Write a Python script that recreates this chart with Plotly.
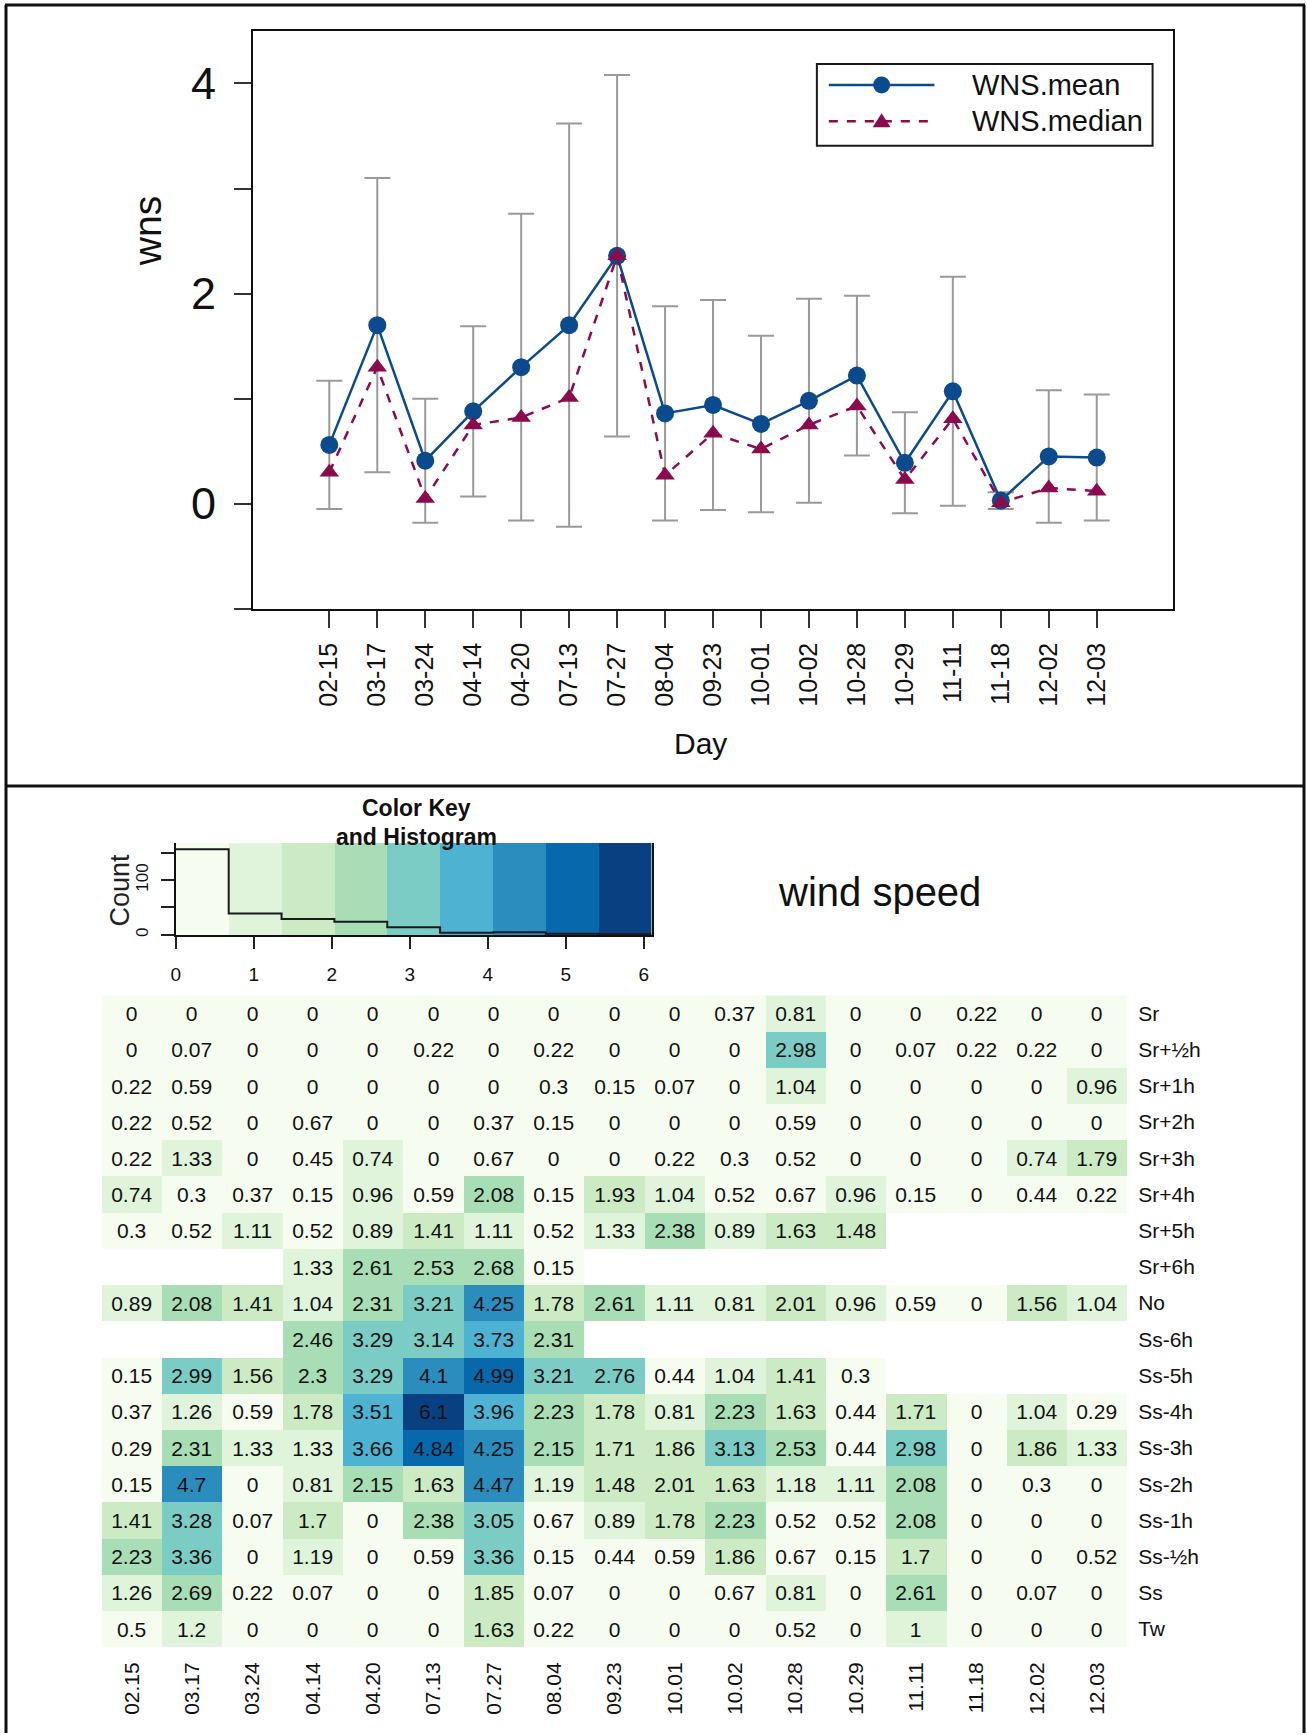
import numpy as np
import plotly.graph_objects as go

W, H = 1307, 1735

# ---------------- daily wind speed summary ----------------
days = ["02-15", "03-17", "03-24", "04-14", "04-20", "07-13", "07-27", "08-04", "09-23",
        "10-01", "10-02", "10-28", "10-29", "11-11", "11-18", "12-02", "12-03"]
wns_mean = [0.56, 1.70, 0.41, 0.88, 1.30, 1.70, 2.36, 0.86, 0.94,
            0.76, 0.98, 1.22, 0.39, 1.07, 0.03, 0.45, 0.44]
wns_sd = [0.61, 1.40, 0.59, 0.81, 1.46, 1.92, 1.72, 1.02, 1.00,
          0.84, 0.97, 0.76, 0.48, 1.09, 0.08, 0.63, 0.60]
wns_median = [0.30, 1.30, 0.05, 0.75, 0.82, 1.01, 2.36, 0.27, 0.67,
              0.52, 0.75, 0.93, 0.23, 0.81, 0.01, 0.15, 0.12]

# ---------------- wind speed by solar time slot ----------------
heat_days = ["02.15", "03.17", "03.24", "04.14", "04.20", "07.13", "07.27", "08.04", "09.23",
             "10.01", "10.02", "10.28", "10.29", "11.11", "11.18", "12.02", "12.03"]
slots = ["Sr", "Sr+½h", "Sr+1h", "Sr+2h", "Sr+3h", "Sr+4h", "Sr+5h", "Sr+6h", "No",
         "Ss-6h", "Ss-5h", "Ss-4h", "Ss-3h", "Ss-2h", "Ss-1h", "Ss-½h", "Ss", "Tw"]
NA = None
ws_Sr = [0, 0, 0, 0, 0, 0, 0, 0, 0, 0, 0.37, 0.81, 0, 0, 0.22, 0, 0]
ws_Sr_half = [0, 0.07, 0, 0, 0, 0.22, 0, 0.22, 0, 0, 0, 2.98, 0, 0.07, 0.22, 0.22, 0]
ws_Sr_1h = [0.22, 0.59, 0, 0, 0, 0, 0, 0.3, 0.15, 0.07, 0, 1.04, 0, 0, 0, 0, 0.96]
ws_Sr_2h = [0.22, 0.52, 0, 0.67, 0, 0, 0.37, 0.15, 0, 0, 0, 0.59, 0, 0, 0, 0, 0]
ws_Sr_3h = [0.22, 1.33, 0, 0.45, 0.74, 0, 0.67, 0, 0, 0.22, 0.3, 0.52, 0, 0, 0, 0.74, 1.79]
ws_Sr_4h = [0.74, 0.3, 0.37, 0.15, 0.96, 0.59, 2.08, 0.15, 1.93, 1.04, 0.52, 0.67, 0.96, 0.15, 0, 0.44, 0.22]
ws_Sr_5h = [0.3, 0.52, 1.11, 0.52, 0.89, 1.41, 1.11, 0.52, 1.33, 2.38, 0.89, 1.63, 1.48, NA, NA, NA, NA]
ws_Sr_6h = [NA, NA, NA, 1.33, 2.61, 2.53, 2.68, 0.15, NA, NA, NA, NA, NA, NA, NA, NA, NA]
ws_No = [0.89, 2.08, 1.41, 1.04, 2.31, 3.21, 4.25, 1.78, 2.61, 1.11, 0.81, 2.01, 0.96, 0.59, 0, 1.56, 1.04]
ws_Ss_6h = [NA, NA, NA, 2.46, 3.29, 3.14, 3.73, 2.31, NA, NA, NA, NA, NA, NA, NA, NA, NA]
ws_Ss_5h = [0.15, 2.99, 1.56, 2.3, 3.29, 4.1, 4.99, 3.21, 2.76, 0.44, 1.04, 1.41, 0.3, NA, NA, NA, NA]
ws_Ss_4h = [0.37, 1.26, 0.59, 1.78, 3.51, 6.1, 3.96, 2.23, 1.78, 0.81, 2.23, 1.63, 0.44, 1.71, 0, 1.04, 0.29]
ws_Ss_3h = [0.29, 2.31, 1.33, 1.33, 3.66, 4.84, 4.25, 2.15, 1.71, 1.86, 3.13, 2.53, 0.44, 2.98, 0, 1.86, 1.33]
ws_Ss_2h = [0.15, 4.7, 0, 0.81, 2.15, 1.63, 4.47, 1.19, 1.48, 2.01, 1.63, 1.18, 1.11, 2.08, 0, 0.3, 0]
ws_Ss_1h = [1.41, 3.28, 0.07, 1.7, 0, 2.38, 3.05, 0.67, 0.89, 1.78, 2.23, 0.52, 0.52, 2.08, 0, 0, 0]
ws_Ss_half = [2.23, 3.36, 0, 1.19, 0, 0.59, 3.36, 0.15, 0.44, 0.59, 1.86, 0.67, 0.15, 1.7, 0, 0, 0.52]
ws_Ss = [1.26, 2.69, 0.22, 0.07, 0, 0, 1.85, 0.07, 0, 0, 0.67, 0.81, 0, 2.61, 0, 0.07, 0]
ws_Tw = [0.5, 1.2, 0, 0, 0, 0, 1.63, 0.22, 0, 0, 0, 0.52, 0, 1, 0, 0, 0]

# GnBu, 9 classes
gnbu = ["#f7fcf0", "#e0f3db", "#ccebc5", "#a8ddb5", "#7bccc4",
        "#4eb3d3", "#2b8cbe", "#0868ac", "#084081"]

ws_rows = [ws_Sr, ws_Sr_half, ws_Sr_1h, ws_Sr_2h, ws_Sr_3h, ws_Sr_4h, ws_Sr_5h, ws_Sr_6h, ws_No,
           ws_Ss_6h, ws_Ss_5h, ws_Ss_4h, ws_Ss_3h, ws_Ss_2h, ws_Ss_1h, ws_Ss_half, ws_Ss, ws_Tw]
z = np.array([[np.nan if v is None else v for v in r] for r in ws_rows], dtype=float)
cell_text = [["" if v is None else f"{v:g}" for v in r] for r in ws_rows]

zmin, zmax = 0.0, float(np.nanmax(z))
nbin = len(gnbu)
breaks = np.linspace(zmin, zmax, nbin + 1)
counts, _ = np.histogram(z[~np.isnan(z)], bins=breaks)

# stepped colour scale so that each break gets one flat colour
cscale = []
for i, c in enumerate(gnbu):
    cscale.append([i / nbin, c])
    cscale.append([(i + 1) / nbin, c])

# ---------------- layout helpers (pixel -> paper) ----------------
def fx(x):
    return x / W


def fy(y):
    return 1 - y / H


REG = "Liberation Sans, Arial, Helvetica, sans-serif"
BLUE = "#0b4a8c"
MAROON = "#8c0a4e"
KEY_TOP = 167.3

fig = go.Figure()

# error bars (mean +/- sd)
fig.add_trace(go.Scatter(
    x=days, y=wns_mean, mode="markers",
    marker=dict(size=1, color="rgba(0,0,0,0)"),
    error_y=dict(type="data", array=wns_sd, symmetric=True,
                 color="#9a9a9a", thickness=2, width=13),
    showlegend=False, hoverinfo="skip", xaxis="x", yaxis="y"))
fig.add_trace(go.Scatter(
    x=days, y=wns_mean, mode="lines+markers", name="WNS.mean",
    line=dict(color=BLUE, width=2.5),
    marker=dict(symbol="circle", size=18, color=BLUE),
    showlegend=False, xaxis="x", yaxis="y"))
fig.add_trace(go.Scatter(
    x=days, y=wns_median, mode="lines+markers", name="WNS.median",
    line=dict(color=MAROON, width=2.5, dash="dash"),
    marker=dict(symbol="triangle-up", size=17, color=MAROON),
    showlegend=False, xaxis="x", yaxis="y"))

# colour key with histogram
mids = (breaks[:-1] + breaks[1:]) / 2
fig.add_trace(go.Heatmap(
    x=breaks, y=[0, KEY_TOP], z=[mids], colorscale=cscale, zmin=zmin, zmax=zmax,
    showscale=False, hoverinfo="skip", xaxis="x2", yaxis="y2"))
fig.add_trace(go.Scatter(
    x=breaks, y=list(counts) + [counts[-1]], mode="lines",
    line=dict(color="#1a1a1a", width=2, shape="hv"),
    showlegend=False, hoverinfo="skip", xaxis="x2", yaxis="y2"))

# heat map
fig.add_trace(go.Heatmap(
    x=heat_days, y=slots, z=z, colorscale=cscale, zmin=zmin, zmax=zmax,
    showscale=False, text=cell_text, texttemplate="%{text}",
    textfont=dict(family=REG, size=21, color="#111111"),
    hoverongaps=False, xaxis="x3", yaxis="y3"))

axis_common = dict(showgrid=False, zeroline=False)

fig.update_layout(
    width=W, height=H, margin=dict(l=0, r=0, t=0, b=0),
    paper_bgcolor="white", plot_bgcolor="white", showlegend=False,
    xaxis=dict(domain=[fx(249), fx(1172)], anchor="y", type="category",
               range=[-1.59, 17.58], ticks="outside", ticklen=17, tickwidth=1.5,
               tickcolor="#333333", tickangle=-90, ticklabelstandoff=5,
               tickfont=dict(family=REG, size=25, color="#111111"),
               showline=True, linecolor="#111111", linewidth=2, mirror=True,
               **axis_common),
    yaxis=dict(domain=[fy(609.5), fy(31)], anchor="x", range=[-1, 4.5],
               tickvals=[-1, 0, 1, 2, 3, 4], ticktext=["", "0", "", "2", "", "4"],
               ticks="outside", ticklen=17, tickwidth=1.5, tickcolor="#333333",
               ticklabelstandoff=9,
               tickfont=dict(family=REG, size=45, color="#111111"),
               showline=True, linecolor="#111111", linewidth=2, mirror=True,
               **axis_common),
    xaxis2=dict(domain=[fx(171.5), fx(649)], anchor="y2", range=[zmin, zmax],
                tickvals=[0, 1, 2, 3, 4, 5, 6], ticks="outside", ticklen=12,
                tickwidth=1.5, tickcolor="#222222", ticklabelstandoff=9,
                tickfont=dict(family=REG, size=19, color="#111111"),
                showline=True, linecolor="#111111", linewidth=2, **axis_common),
    yaxis2=dict(domain=[fy(936), fy(844)], anchor="x2", range=[0, KEY_TOP],
                tickvals=[0, 50, 100, 150], ticktext=["0", "", "100", ""],
                ticks="outside", ticklen=13, tickwidth=1.5, tickcolor="#222222",
                tickangle=-90, ticklabelstandoff=6,
                tickfont=dict(family=REG, size=17, color="#111111"),
                showline=True, linecolor="#111111", linewidth=2, mirror=True,
                **axis_common),
    xaxis3=dict(domain=[fx(97), fx(1126.5)], anchor="y3", type="category",
                ticks="", tickangle=-90, ticklabelstandoff=10,
                tickfont=dict(family=REG, size=21, color="#111111"),
                showline=False, **axis_common),
    yaxis3=dict(domain=[fy(1649), fy(996.5)], anchor="x3", type="category",
                autorange="reversed", side="right", ticks="", ticklabelstandoff=10,
                tickfont=dict(family=REG, size=21, color="#111111"),
                showline=False, **axis_common),
)

# ---------------- frame lines ----------------
frame = dict(color="#111111", width=3)
shapes = [
    dict(type="line", xref="paper", yref="paper", x0=0, x1=fx(1305), y0=fy(5), y1=fy(5), line=frame),
    dict(type="line", xref="paper", yref="paper", x0=fx(1), x1=fx(1), y0=fy(5), y1=0, line=frame),
    dict(type="line", xref="paper", yref="paper", x0=fx(1304), x1=fx(1304), y0=fy(5), y1=0, line=frame),
    dict(type="line", xref="paper", yref="paper", x0=0, x1=fx(1305), y0=fy(787), y1=fy(787), line=frame),
]

# ---------------- legend box for the line chart ----------------
shapes.append(dict(type="rect", xref="paper", yref="paper",
                   x0=fx(815), x1=fx(1152), y0=fy(146), y1=fy(64),
                   line=dict(color="#1a1a1a", width=2), fillcolor="white"))
row1, row2 = 85, 121.5
shapes.append(dict(type="line", xref="paper", yref="paper",
                   x0=fx(827), x1=fx(933), y0=fy(row1), y1=fy(row1),
                   line=dict(color=BLUE, width=2.5)))
shapes.append(dict(type="circle", xref="paper", yref="paper",
                   x0=fx(880 - 8.5), x1=fx(880 + 8.5), y0=fy(row1 + 8.5), y1=fy(row1 - 8.5),
                   line=dict(color=BLUE, width=0), fillcolor=BLUE))
shapes.append(dict(type="line", xref="paper", yref="paper",
                   x0=fx(827), x1=fx(933), y0=fy(row2), y1=fy(row2),
                   line=dict(color=MAROON, width=2.5, dash="dash")))
tri = "M {:.5f},{:.5f} L {:.5f},{:.5f} L {:.5f},{:.5f} Z".format(
    fx(871), fy(row2 + 6), fx(889), fy(row2 + 6), fx(880), fy(row2 - 8))
shapes.append(dict(type="path", xref="paper", yref="paper", path=tri,
                   line=dict(color=MAROON, width=0), fillcolor=MAROON))

annotations = [
    dict(text="WNS.mean", x=fx(969), y=fy(row1), xanchor="left", yanchor="middle"),
    dict(text="WNS.median", x=fx(969), y=fy(row2), xanchor="left", yanchor="middle"),
]
for a in annotations:
    a.update(xref="paper", yref="paper", showarrow=False,
             font=dict(family=REG, size=29, color="#111111"))

annotations += [
    dict(text="wns", x=fx(143), y=fy(231), textangle=-90,
         font=dict(family=REG, size=39, color="#111111")),
    dict(text="Day", x=fx(698), y=fy(744),
         font=dict(family=REG, size=30, color="#111111")),
    dict(text="<b>Color Key</b>", x=fx(413), y=fy(809),
         font=dict(family=REG, size=23, color="#111111")),
    dict(text="<b>and Histogram</b>", x=fx(413), y=fy(838),
         font=dict(family=REG, size=23, color="#111111")),
    dict(text="Count", x=fx(115), y=fy(891), textangle=-90,
         font=dict(family=REG, size=27, color="#222222")),
    dict(text="wind speed", x=fx(878), y=fy(893),
         font=dict(family=REG, size=40, color="#111111")),
]
for a in annotations[2:]:
    a.update(xref="paper", yref="paper", showarrow=False,
             xanchor="center", yanchor="middle")

fig.update_layout(shapes=shapes, annotations=annotations)

fig.write_html("out.html")
